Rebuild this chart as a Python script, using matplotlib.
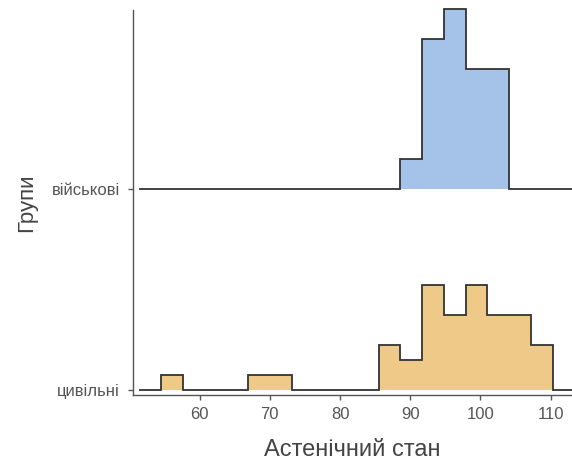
import matplotlib
matplotlib.use("Agg")
import matplotlib.pyplot as plt
import numpy as np

# Histogram bins (shared by both groups, padded by one empty bin on each side)
bin_start = 51.4
bin_width = 3.1
groups = ['цивільні', 'військові']
civil_counts = [0, 1, 0, 0, 0, 1, 1, 0, 0, 0, 0, 3, 2, 7, 5, 7, 5, 5, 3, 0]
military_counts = [0, 0, 0, 0, 0, 0, 0, 0, 0, 0, 0, 0, 2, 10, 12, 8, 8, 0, 0, 0]
fill_colors = ['#EFC987', '#A5C2E8']
xticks = [60, 70, 80, 90, 100, 110]

plt.rcParams['font.family'] = ['Liberation Sans', 'DejaVu Sans']

edges = bin_start + bin_width * np.arange(len(civil_counts) + 1)
scale = 0.0746  # ridge height per count (in group units)

fig = plt.figure(figsize=(5.72, 4.66), dpi=100)
ax = fig.add_axes([133 / 572, 71 / 466, 1 - 133 / 572, 385 / 466])

for i, (counts, color) in enumerate(zip([civil_counts, military_counts], fill_colors)):
    y0 = i + 1
    vals = y0 + np.array(counts) * scale
    ax.stairs(vals, edges, baseline=y0, fill=True, color=color, lw=0, zorder=2 + i, clip_on=False)
    ax.stairs(vals, edges, baseline=y0, fill=False, color='#333333', lw=1.3, zorder=2.5 + i, clip_on=False)

ax.set_xlim(50.5, 113.06)
ax.set_ylim(0.975, 2.8905)
ax.set_xticks(xticks)
ax.set_yticks([1, 2])
ax.set_yticklabels(groups)

for s in ['top', 'right']:
    ax.spines[s].set_visible(False)
for s in ['left', 'bottom']:
    ax.spines[s].set_color('#555555')
    ax.spines[s].set_linewidth(1.0)

ax.tick_params(axis='both', colors='#555555', labelcolor='#555555', labelsize=12, length=3.6, width=1.0)
ax.tick_params(axis='x', pad=5)
ax.tick_params(axis='y', pad=6)
ax.set_xlabel('Астенічний стан', fontsize=17, color='#444444', labelpad=12)
ax.set_ylabel('Групи', fontsize=16, color='#444444', labelpad=10)

plt.savefig('out.png', dpi=100)
